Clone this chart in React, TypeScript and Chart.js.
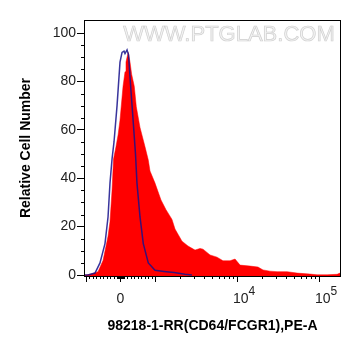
import React, { useEffect, useRef } from "react";
import { Chart, registerables } from "chart.js";

Chart.register(...registerables);

// Display-scale (logicle-like) positions of the histogram bins and their relative counts
const redX = [2.134, 2.159, 2.232, 2.305, 2.366, 2.427, 2.451, 2.476, 2.494, 2.524, 2.55, 2.573, 2.61, 2.634, 2.646, 2.659, 2.674, 2.695, 2.715, 2.747, 2.772, 2.817, 2.878, 2.918, 2.939, 3.0, 3.073, 3.134, 3.207, 3.244, 3.329, 3.402, 3.488, 3.549, 3.585, 3.671, 3.756, 3.829, 3.915, 3.976, 4.037, 4.159, 4.256, 4.317, 4.402, 4.488, 4.61, 4.732, 4.89, 4.976, 5.098, 5.22, 5.256, 5.268];
const redY = [0, 0, 0.5, 1.4, 6, 16, 22, 35, 48, 53, 58, 64, 78, 84, 88, 90, 92, 88, 83, 78, 69.5, 61, 53, 47.5, 43, 38, 31, 27, 23, 19, 14, 12, 10.3, 11, 10.7, 8.3, 7.4, 5.9, 5.9, 6.6, 4.1, 3.7, 3.3, 2.1, 1.6, 1.4, 1.4, 0.8, 0.4, 0.1, 0.1, 0.3, 0.8, 1.0];

const blueX = [2.134, 2.183, 2.268, 2.329, 2.39, 2.427, 2.451, 2.476, 2.5, 2.537, 2.573, 2.598, 2.622, 2.634, 2.659, 2.677, 2.707, 2.735, 2.762, 2.78, 2.817, 2.857, 2.918, 3.0, 3.11, 3.232, 3.366, 3.45];
const blueY = [0, 0, 0.8, 5, 13, 24, 38, 48, 55, 70, 88, 92, 92.5, 91.5, 93, 91, 76, 63, 50, 38, 24, 13, 5, 2, 1.5, 1, 0.3, 0];

// Axis ticks
const yTickValues = [0, 20, 40, 60, 80, 100];
const yMinorValues = [5, 10, 15, 25, 30, 35, 45, 50, 55, 65, 70, 75, 85, 90, 95];
const xMajorValues = [-1000, 0, 1000, 10000, 100000];
const xMinorValues = [
  -900, -800, -700, -600, -500, -400, -300, -200, -100,
  -90, -80, -70, -60, -50, -40, -30, -20, -10, 10, 20, 30, 40, 50, 60, 70, 80, 90,
  100, 200, 300, 400, 500, 600, 700, 800, 900,
  2000, 3000, 4000, 5000, 6000, 7000, 8000, 9000,
  20000, 30000, 40000, 50000, 60000, 70000, 80000, 90000,
];
const xLabelValues = [0, 10000, 100000];
const xLabelBases = ["0", "10", "10"];
const xLabelExps = ["", "4", "5"];

const xTitle = "98218-1-RR(CD64/FCGR1),PE-A";
const yTitle = "Relative Cell Number";
const watermark = "WWW.PTGLAB.COM";

const X_MIN = 2.134;
const X_MAX = 5.268;
const ZERO_POS = 2.579;

function toDisplay(v: number): number {
  if (Math.abs(v) <= 1000) return ZERO_POS + ((3 - ZERO_POS) * v) / 1000;
  return v > 0 ? Math.log10(v) : 2 * ZERO_POS - Math.log10(-v);
}

const FONT = "'Liberation Sans', Arial, sans-serif";

const decorPlugin = {
  id: "decor",
  beforeDatasetsDraw(chart: any) {
    const { ctx } = chart;
    ctx.save();
    ctx.font = `22px ${FONT}`;
    ctx.textAlign = "center";
    ctx.textBaseline = "middle";
    ctx.fillStyle = "#f3f3f3";
    ctx.fillText(watermark, 229, 35);
    ctx.strokeStyle = "rgba(190,190,190,0.7)";
    ctx.lineWidth = 0.7;
    ctx.strokeText(watermark, 229, 35);
    ctx.restore();
  },
  afterDraw(chart: any) {
    const { ctx, chartArea } = chart;
    const xs = chart.scales.x;
    const ys = chart.scales.y;
    const { left, right, top, bottom } = chartArea;
    ctx.save();
    ctx.strokeStyle = "#000";
    ctx.lineWidth = 1;
    ctx.strokeRect(left + 0.5, top + 0.5, right - left - 1, bottom - top);
    ctx.beginPath();
    for (const v of xMajorValues) {
      const px = Math.round(xs.getPixelForValue(toDisplay(v))) + 0.5;
      ctx.moveTo(px, bottom);
      ctx.lineTo(px, bottom + 6);
    }
    for (const v of xMinorValues) {
      const px = Math.round(xs.getPixelForValue(toDisplay(v))) + 0.5;
      ctx.moveTo(px, bottom);
      ctx.lineTo(px, bottom + 3);
    }
    for (const v of yMinorValues) {
      const py = Math.round(ys.getPixelForValue(v)) + 0.5;
      ctx.moveTo(left - 3, py);
      ctx.lineTo(left, py);
    }
    ctx.stroke();

    ctx.fillStyle = "#222";
    ctx.textBaseline = "alphabetic";
    xLabelValues.forEach((v, i) => {
      const px = xs.getPixelForValue(toDisplay(v));
      const base = xLabelBases[i];
      const exp = xLabelExps[i];
      ctx.font = `14px ${FONT}`;
      if (!exp) {
        ctx.textAlign = "center";
        ctx.fillText(base, px, 303);
      } else {
        ctx.textAlign = "left";
        const x0 = px - 4;
        ctx.fillText(base, x0, 303);
        const w = ctx.measureText(base).width;
        ctx.font = `12px ${FONT}`;
        ctx.fillText(exp, x0 + w, 295);
      }
    });
    ctx.restore();
  },
};

export default function App() {
  const canvasRef = useRef<HTMLCanvasElement | null>(null);

  useEffect(() => {
    const canvas = canvasRef.current;
    if (!canvas) return;
    const chart = new Chart(canvas, {
      type: "line",
      data: {
        datasets: [
          {
            label: "isotype",
            data: blueX.map((x, i) => ({ x, y: blueY[i] })),
            borderColor: "rgba(22,18,140,0.85)",
            borderWidth: 1.5,
            pointRadius: 0,
            fill: false,
            tension: 0,
          },
          {
            label: "sample",
            data: redX.map((x, i) => ({ x, y: redY[i] })),
            borderColor: "#ff0000",
            backgroundColor: "#ff0000",
            borderWidth: 0.5,
            pointRadius: 0,
            fill: "start",
            tension: 0,
          },
        ],
      },
      options: {
        responsive: false,
        animation: false,
        devicePixelRatio: 1,
        layout: { padding: { left: 0, right: 20, top: 20, bottom: 0 } },
        plugins: { legend: { display: false }, tooltip: { enabled: false } },
        scales: {
          x: {
            type: "linear",
            min: X_MIN,
            max: X_MAX,
            grid: { display: false },
            border: { display: false },
            ticks: { display: false },
            afterFit: (s: any) => {
              s.height = 80;
            },
            title: {
              display: true,
              text: xTitle,
              color: "#000",
              font: { family: FONT, size: 14, weight: "bold" },
              padding: { top: 0, bottom: 21 },
            },
          },
          y: {
            type: "linear",
            min: -0.4,
            max: 105.4,
            afterBuildTicks: (s: any) => {
              s.ticks = yTickValues.map((v) => ({ value: v }));
            },
            afterFit: (s: any) => {
              s.width = 84;
            },
            grid: {
              drawOnChartArea: false,
              tickLength: 7,
              color: "#000",
              lineWidth: 1,
            },
            border: { display: false },
            ticks: {
              color: "#222",
              padding: 1,
              font: { family: FONT, size: 14 },
              callback: (v: any) => String(v),
            },
            title: {
              display: true,
              text: yTitle,
              color: "#000",
              font: { family: FONT, size: 14, weight: "bold" },
              padding: { top: 18, bottom: 0 },
            },
          },
        },
      },
      plugins: [decorPlugin],
    });
    return () => chart.destroy();
  }, []);

  return (
    <div style={{ position: "absolute", left: 0, top: 0, width: 361, height: 356, background: "#fff" }}>
      <canvas ref={canvasRef} width={361} height={356} style={{ width: 361, height: 356 }} />
    </div>
  );
}
